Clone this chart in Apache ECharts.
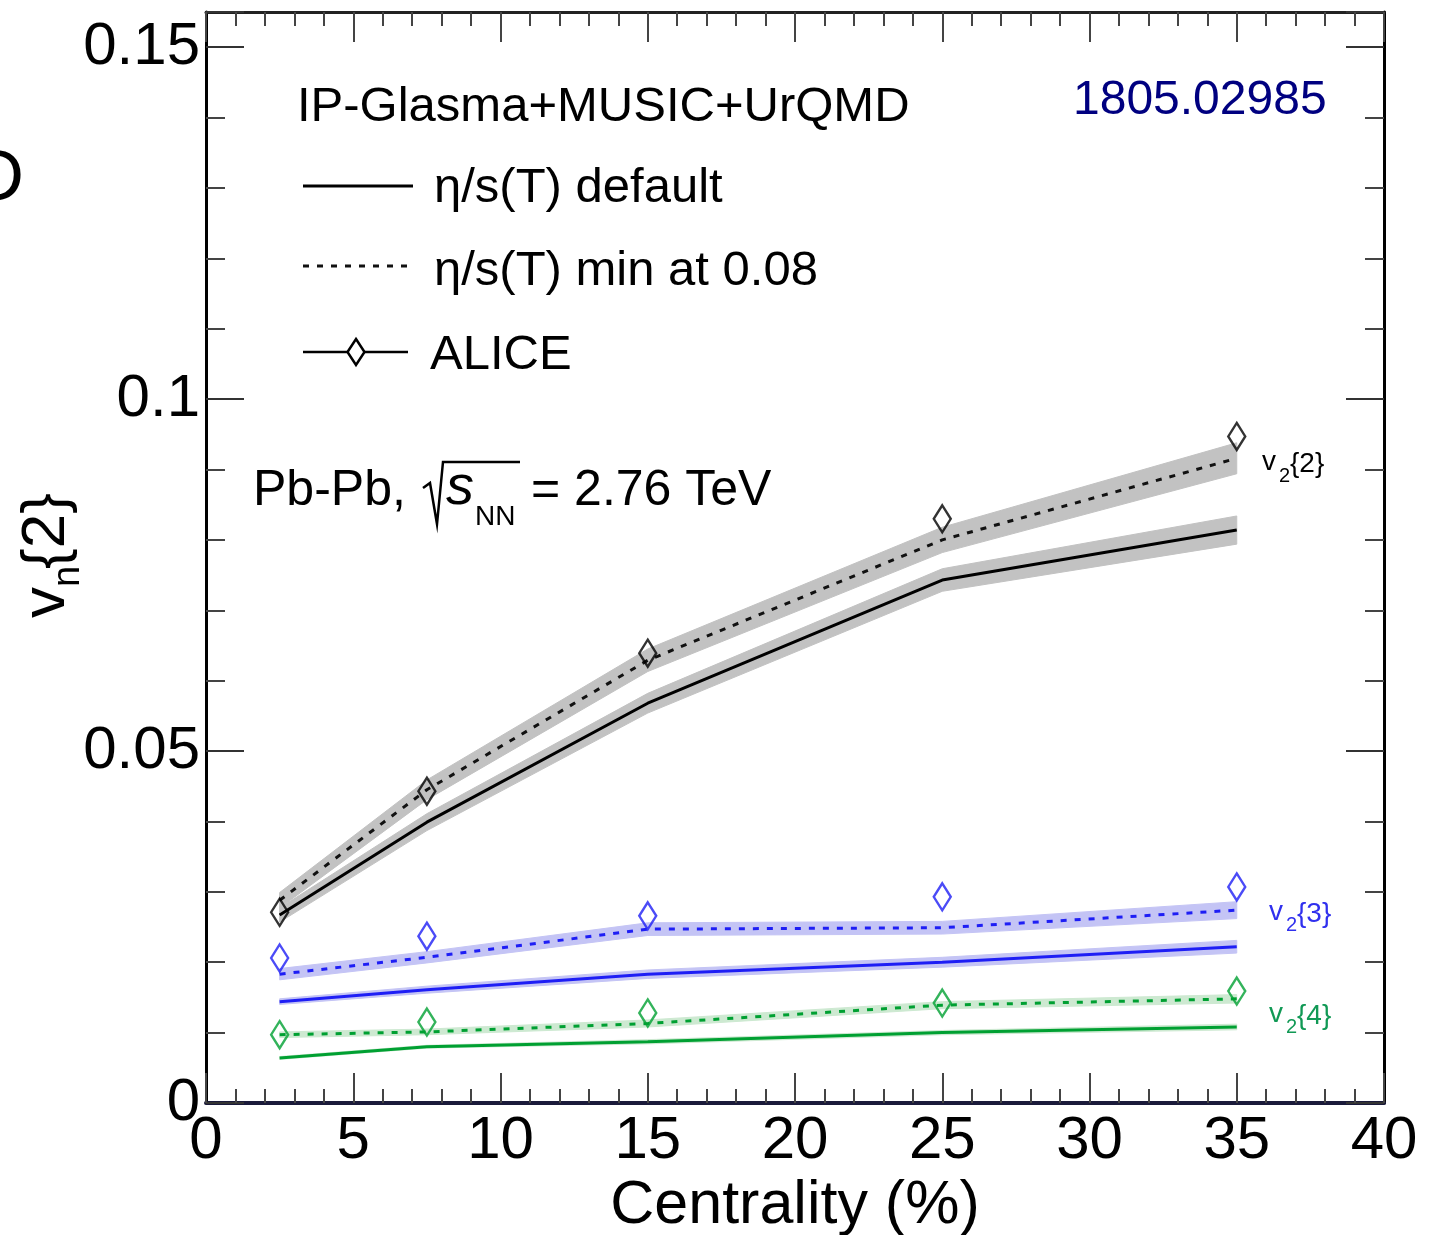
<!DOCTYPE html>
<html><head><meta charset="utf-8">
<script src="https://cdn.jsdelivr.net/npm/echarts@6/dist/echarts.min.js"></script>
<style>html,body{margin:0;padding:0;background:#fff;overflow:hidden}#c{width:1441px;height:1235px}</style>
</head><body><div id="c"></div>
<script>
// ---- data ----
const centrality = [2.5, 7.5, 15, 25, 35];
const xTickLabels = ['0', '5', '10', '15', '20', '25', '30', '35', '40'];
const yTickLabels = ['0', '0.05', '0.1', '0.15'];

const v22Default = [0.0267, 0.0399, 0.0568, 0.0743, 0.0814];
const v22Default_err = [0.0010, 0.0012, 0.0014, 0.0016, 0.0020];
const v22Min008 = [0.0288, 0.0445, 0.0629, 0.0800, 0.0916];
const v22Min008_err = [0.0011, 0.0014, 0.0016, 0.0018, 0.0022];
const v22Alice = [0.0271, 0.0443, 0.0639, 0.0830, 0.0947];

const v32Default = [0.0144, 0.0161, 0.0183, 0.0200, 0.0222];
const v32Default_err = [0.0004, 0.0005, 0.0006, 0.0007, 0.0009];
const v32Min008 = [0.0183, 0.0207, 0.0247, 0.0249, 0.0274];
const v32Min008_err = [0.0008, 0.0008, 0.0009, 0.0009, 0.0012];
const v32Alice = [0.0206, 0.0237, 0.0266, 0.0293, 0.0307];

const v42Default = [0.0064, 0.0080, 0.0087, 0.0100, 0.0108];
const v42Default_err = [0.0002, 0.0002, 0.0003, 0.0003, 0.0004];
const v42Min008 = [0.0097, 0.0101, 0.0113, 0.0139, 0.0148];
const v42Min008_err = [0.0004, 0.0004, 0.0005, 0.0005, 0.0006];
const v42Alice = [0.0097, 0.0115, 0.0128, 0.0142, 0.0159];

// ---- styles ----
const FONT = '"Liberation Sans", Arial, Helvetica, sans-serif';
const BLACK = '#000000', BLUE = '#1e1ef5', GREEN = '#00a032';
const BAND_BLACK = '#c2c2c2', BAND_BLUE = '#c4c4f5', BAND_GREEN = '#cde9d1';
const DASH = [6, 8];

const pairs = (vals) => centrality.map((x, i) => [x, vals[i]]);

function band(vals, errs, color) {
  return {
    type: 'custom', silent: true, z: 1,
    data: centrality.map((x, i) => [x, vals[i] - errs[i], vals[i] + errs[i]]),
    encode: { x: 0, y: [1, 2] },
    renderItem: function (params, api) {
      if (params.dataIndexInside !== 0) return null;
      const n = params.dataInsideLength;
      const up = [], lo = [];
      for (let i = 0; i < n; i++) {
        up.push(api.coord([api.value(0, i), api.value(2, i)]));
        lo.push(api.coord([api.value(0, i), api.value(1, i)]));
      }
      return { type: 'polygon', shape: { points: up.concat(lo.reverse()) },
        style: { fill: color, stroke: color, lineWidth: 1 } };
    }
  };
}
function curve(vals, color, dashed) {
  return { type: 'line', data: pairs(vals), symbol: 'none', silent: true, z: 3,
    lineStyle: { color: color, width: 3, type: dashed ? DASH : 'solid' } };
}
function points(vals, color) {
  return { type: 'scatter', data: pairs(vals), symbol: 'diamond', symbolSize: [17, 27], z: 5, silent: true,
    itemStyle: { color: 'rgba(0,0,0,0)', borderColor: color, borderWidth: 2.5 } };
}

const series = [
  band(v22Default, v22Default_err, BAND_BLACK),
  band(v22Min008, v22Min008_err, BAND_BLACK),
  band(v32Default, v32Default_err, BAND_BLUE),
  band(v32Min008, v32Min008_err, BAND_BLUE),
  band(v42Default, v42Default_err, BAND_GREEN),
  band(v42Min008, v42Min008_err, BAND_GREEN),
  curve(v22Default, BLACK, false), curve(v22Min008, '#111', true),
  curve(v32Default, BLUE, false), curve(v32Min008, BLUE, true),
  curve(v42Default, GREEN, false), curve(v42Min008, GREEN, true),
  points(v22Alice, BLACK), points(v32Alice, BLUE), points(v42Alice, GREEN)
];

function T(text, x, y, size, color, italic) {
  return { type: 'text', x: x, y: y, z: 20, silent: true,
    style: { text: text, font: (italic ? 'italic ' : '') + size + 'px ' + FONT,
      fill: color || '#000', align: 'left', verticalAlign: 'middle' } };
}

const graphics = [
  T('D', -28, 180, 72),
  T('IP-Glasma+MUSIC+UrQMD', 297, 107, 49),
  T('1805.02985', 1073, 101, 48, '#000080'),
  // legend
  { type: 'line', z: 20, shape: { x1: 303, y1: 186, x2: 413, y2: 186 }, style: { stroke: '#000', lineWidth: 3 } },
  T('\u03b7/s(T) default', 434, 188, 49),
  { type: 'line', z: 20, shape: { x1: 303, y1: 266, x2: 415, y2: 266 }, style: { stroke: '#111', lineWidth: 3, lineDash: DASH } },
  T('\u03b7/s(T) min at 0.08', 434, 271, 49),
  { type: 'line', z: 20, shape: { x1: 303, y1: 352, x2: 408, y2: 352 }, style: { stroke: '#000', lineWidth: 2.5 } },
  { type: 'polygon', z: 21, shape: { points: [[356, 339], [364.5, 352], [356, 365], [347.5, 352]] }, style: { fill: '#fff', stroke: '#000', lineWidth: 2.5 } },
  T('ALICE', 430, 355, 49),
  // Pb-Pb label
  T('Pb-Pb,', 253, 491, 50),
  { type: 'polyline', z: 20, shape: { points: [[423, 488], [430, 483], [437, 524], [443, 462], [520, 462]] }, style: { stroke: '#000', lineWidth: 2.5, fill: null } },
  T('s', 446, 488, 56, '#000', true),
  T('NN', 475, 517, 28),
  T('= 2.76 TeV', 531, 491, 50),
  // curve labels
  T('v', 1262, 462, 28), T('2', 1279, 476, 20), T('{2}', 1290, 464, 28),
  T('v', 1269, 912, 28, '#3030ee'), T('2', 1286, 925, 20, '#3030ee'), T('{3}', 1297, 914, 28, '#3030ee'),
  T('v', 1269, 1014, 28, '#119955'), T('2', 1286, 1027, 20, '#119955'), T('{4}', 1297, 1016, 28, '#119955'),
  // y axis title (rotated)
  { type: 'group', x: 47, y: 618, rotation: Math.PI / 2, children: [
    T('v', 0, 0, 62), T('n', 31, 22, 38), T('{2}', 49, 0, 62)
  ] }
];

const axisLbl = { fontFamily: FONT, fontSize: 60, color: '#000' };
const chart = echarts.init(document.getElementById('c'), null, { renderer: 'canvas', width: 1441, height: 1235 });
chart.setOption({
  animation: false,
  backgroundColor: '#fff',
  grid: { left: 206, right: 57, top: 12, bottom: 132, containLabel: false, outerBoundsMode: 'none' },
  xAxis: [
    { type: 'value', min: 0, max: 40, interval: 5, position: 'bottom',
      axisLine: { show: true, onZero: false, lineStyle: { color: '#1a1a3a', width: 4 } },
      axisTick: { show: true, inside: true, length: 30, lineStyle: { color: '#444', width: 2 } },
      minorTick: { show: true, splitNumber: 5, length: 14, lineStyle: { color: '#444', width: 2 } },
      splitLine: { show: false },
      axisLabel: Object.assign({ margin: 8, formatter: (v) => xTickLabels[Math.round(v / 5)] || '' }, axisLbl),
      name: 'Centrality (%)', nameLocation: 'middle', nameGap: 73,
      nameTextStyle: { fontFamily: FONT, fontSize: 61, color: '#000' } },
    { type: 'value', min: 0, max: 40, interval: 5, position: 'top',
      axisLine: { show: true, onZero: false, lineStyle: { color: '#222', width: 3 } },
      axisTick: { show: true, inside: true, length: 30, lineStyle: { color: '#444', width: 2 } },
      minorTick: { show: true, splitNumber: 5, length: 14, lineStyle: { color: '#444', width: 2 } },
      splitLine: { show: false }, axisLabel: { show: false } }
  ],
  yAxis: [
    { type: 'value', min: 0, max: 0.155, interval: 0.05, position: 'left',
      axisLine: { show: true, onZero: false, lineStyle: { color: '#000', width: 3 } },
      axisTick: { show: true, inside: true, length: 38, lineStyle: { color: '#333', width: 2 } },
      minorTick: { show: true, splitNumber: 5, length: 19, lineStyle: { color: '#444', width: 2 } },
      splitLine: { show: false },
      axisLabel: Object.assign({ margin: 6, formatter: (v) => {
        const k = v / 0.05; return Math.abs(k - Math.round(k)) < 1e-6 ? (yTickLabels[Math.round(k)] || '') : ''; } }, axisLbl) },
    { type: 'value', min: 0, max: 0.155, interval: 0.05, position: 'right',
      axisLine: { show: true, onZero: false, lineStyle: { color: '#000', width: 3 } },
      axisTick: { show: true, inside: true, length: 38, lineStyle: { color: '#333', width: 2 } },
      minorTick: { show: true, splitNumber: 5, length: 19, lineStyle: { color: '#444', width: 2 } },
      splitLine: { show: false }, axisLabel: { show: false } }
  ],
  series: series,
  graphic: graphics
});
</script></body></html>
